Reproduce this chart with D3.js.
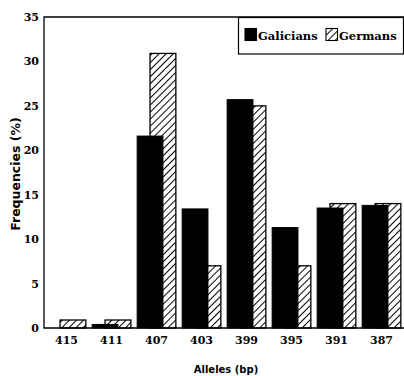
<!DOCTYPE html>
<html>
<head>
<meta charset="utf-8">
<script src="https://cdn.jsdelivr.net/npm/d3@7"></script>
<style>
  body { margin: 0; background: #fff; }
  svg { display: block; }
</style>
</head>
<body>
<div id="chart"></div>
<script>
// allele sizes and frequencies
var alleles = ["415", "411", "407", "403", "399", "395", "391", "387"];
var galicians = [0, 0.4, 21.6, 13.4, 25.7, 11.3, 13.5, 13.8];
var germans = [0.9, 0.9, 30.9, 7.0, 25.0, 7.0, 14.0, 14.0];
var yTicks = [0, 5, 10, 15, 20, 25, 30, 35];

var W = 404, H = 376;
var margin = {top: 17, right: 0, bottom: 48, left: 44};

var svg = d3.select("#chart").append("svg")
    .attr("width", W)
    .attr("height", H);

// hatch pattern for the German bars
var defs = svg.append("defs");
var pat = defs.append("pattern")
    .attr("id", "hatch")
    .attr("patternUnits", "userSpaceOnUse")
    .attr("width", 5)
    .attr("height", 5)
    .attr("patternTransform", "rotate(45)");
pat.append("rect").attr("width", 5).attr("height", 5).attr("fill", "#fff");
pat.append("line")
    .attr("x1", 0).attr("y1", 0).attr("x2", 0).attr("y2", 5)
    .attr("stroke", "#000").attr("stroke-width", 2);

var x = d3.scaleBand()
    .domain(alleles)
    .range([margin.left, W - margin.right])
    .paddingInner(0.14)
    .paddingOuter(0.07);

var y = d3.scaleLinear()
    .domain([0, 35])
    .range([H - margin.bottom, margin.top]);

var barW = x.bandwidth() * 2 / 3;

var rows = alleles.map(function(a, i) {
    return {allele: a, gal: galicians[i], ger: germans[i]};
});

// German bars sit behind, shifted right
svg.append("g").selectAll("rect")
    .data(rows)
    .enter().append("rect")
    .attr("x", function(d) { return x(d.allele) + x.bandwidth() / 3; })
    .attr("y", function(d) { return y(d.ger); })
    .attr("width", barW)
    .attr("height", function(d) { return y(0) - y(d.ger); })
    .attr("fill", "url(#hatch)")
    .attr("stroke", "#000")
    .attr("stroke-width", 1.3);

svg.append("g").selectAll("rect")
    .data(rows.filter(function(d) { return d.gal > 0; }))
    .enter().append("rect")
    .attr("x", function(d) { return x(d.allele); })
    .attr("y", function(d) { return y(d.gal); })
    .attr("width", barW)
    .attr("height", function(d) { return y(0) - y(d.gal); })
    .attr("fill", "#000")
    .attr("stroke", "#000")
    .attr("stroke-width", 1);

// frame: top, left and bottom lines
svg.append("path")
    .attr("d", "M" + (W - margin.right) + "," + y(35) + "H" + margin.left + "V" + y(0) + "H" + (W - margin.right))
    .attr("fill", "none")
    .attr("stroke", "#000")
    .attr("stroke-width", 1.3);

// y axis
var yAxis = svg.append("g")
    .attr("transform", "translate(" + margin.left + ",0)")
    .call(d3.axisLeft(y).tickValues(yTicks).tickSize(0).tickPadding(5));
yAxis.select(".domain").remove();
yAxis.selectAll("text")
    .attr("font-family", "DejaVu Serif")
    .attr("font-weight", "bold")
    .attr("font-size", 11)
    .attr("fill", "#000");

// x axis
var xAxis = svg.append("g")
    .attr("transform", "translate(0," + y(0) + ")")
    .call(d3.axisBottom(x).tickSize(0).tickPadding(8));
xAxis.select(".domain").remove();
xAxis.selectAll("text")
    .attr("font-family", "DejaVu Serif")
    .attr("font-weight", "bold")
    .attr("font-size", 11)
    .attr("fill", "#000");

// axis titles
svg.append("text")
    .attr("x", 226)
    .attr("y", 373)
    .attr("text-anchor", "middle")
    .attr("font-family", "DejaVu Sans")
    .attr("font-weight", "bold")
    .attr("font-size", 10)
    .text("Alleles (bp)");

svg.append("text")
    .attr("transform", "translate(20,174) rotate(-90)")
    .attr("text-anchor", "middle")
    .attr("font-family", "DejaVu Sans")
    .attr("font-weight", "bold")
    .attr("font-size", 12.5)
    .text("Frequencies (%)");

// legend
var legend = svg.append("g");
legend.append("rect")
    .attr("x", 238.5).attr("y", 17.5)
    .attr("width", 165).attr("height", 36.5)
    .attr("fill", "#fff").attr("stroke", "#000").attr("stroke-width", 1.2);

var legendItems = [
    {label: "Galicians", fill: "#000", sx: 245, tx: 258},
    {label: "Germans", fill: "url(#hatch)", sx: 326, tx: 339}
];
legend.selectAll(".sw")
    .data(legendItems)
    .enter().append("rect")
    .attr("x", function(d) { return d.sx; })
    .attr("y", 28.5)
    .attr("width", 11.5)
    .attr("height", 12)
    .attr("fill", function(d) { return d.fill; })
    .attr("stroke", "#000")
    .attr("stroke-width", 1.1);
legend.selectAll(".lt")
    .data(legendItems)
    .enter().append("text")
    .attr("x", function(d) { return d.tx; })
    .attr("y", 40)
    .attr("font-family", "DejaVu Serif")
    .attr("font-weight", "bold")
    .attr("font-size", 11.5)
    .text(function(d) { return d.label; });
</script>
</body>
</html>
